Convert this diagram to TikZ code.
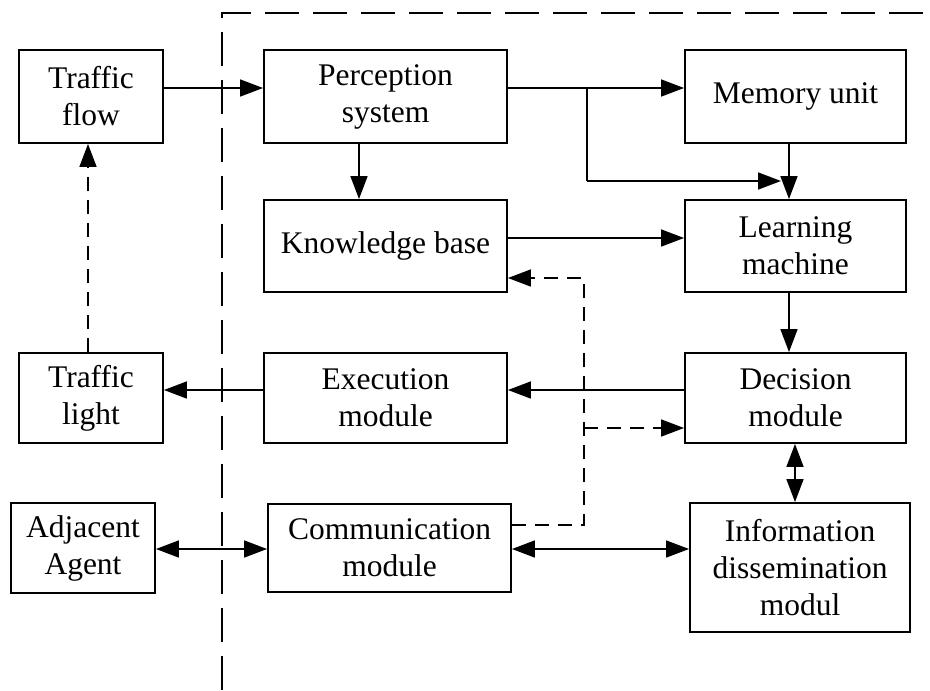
\documentclass[tikz,border=0pt]{standalone}
\usepackage{fontspec}
\setmainfont{Liberation Serif}
\usetikzlibrary{arrows.meta}
\begin{document}
\begin{tikzpicture}[x=1pt,y=-1pt,
  blk/.style={draw,line width=1.9pt,align=center,inner sep=0pt,
    font=\fontsize{31.5}{37}\selectfont},
  tip/.style={Triangle[length=23pt,width=17pt]},
  conn/.style={line width=1.6pt,-{Triangle[length=23pt,width=17pt]}},
  biconn/.style={line width=1.6pt,{Triangle[length=23pt,width=17pt]}-{Triangle[length=23pt,width=17pt]}},
  dconn/.style={conn,dash pattern=on 14pt off 9pt},
  border/.style={line width=1.5pt,dash pattern=on 34pt off 14pt}]
\useasboundingbox (0,0) rectangle (930,691);

% boxes
\node[blk,minimum width=144pt,minimum height=93pt] (tflow) at (91,96.5) {Traffic\\flow};
\node[blk,minimum width=243pt,minimum height=93pt] (percep) at (385.5,96.5) {Perception\\system};
\node[blk,minimum width=221pt,minimum height=93pt] (memory) at (795.5,96.5) {Memory unit};
\node[blk,minimum width=243pt,minimum height=92pt] (know) at (385.5,246) {Knowledge base};
\node[blk,minimum width=221pt,minimum height=92pt] (learn) at (795.5,246) {Learning\\machine};
\node[blk,minimum width=144pt,minimum height=90pt] (tlight) at (91,398) {Traffic\\light};
\node[blk,minimum width=243pt,minimum height=90pt] (exec) at (385.5,398) {Execution\\module};
\node[blk,minimum width=221pt,minimum height=90pt] (decision) at (795.5,398) {Decision\\module};
\node[blk,minimum width=144pt,minimum height=90pt] (adj) at (83,548) {Adjacent\\Agent};
\node[blk,minimum width=243pt,minimum height=88pt] (comm) at (389.5,548) {Communication\\module};
\node[blk,minimum width=220pt,minimum height=129pt] (info) at (800,567.5) {Information\\dissemination\\modul};

% reference levels and bends
\coordinate (r1) at (0,88);
\coordinate (r2) at (0,238);
\coordinate (r3) at (0,278);
\coordinate (r4) at (0,390);
\coordinate (r5) at (0,428);
\coordinate (r6) at (0,525);
\coordinate (r7) at (0,549);
\coordinate (colA) at (789,0);
\coordinate (colB) at (795,0);
\coordinate (fork) at (587,88);
\coordinate (forkdn) at (587,181);
\coordinate (forkend) at (781,181);
\coordinate (dv) at (584,0);
\coordinate (bnd1) at (222,690);
\coordinate (bnd2) at (222,13);
\coordinate (bnd3) at (930,13);

% agent boundary
\draw[border] (bnd1) -- (bnd2) -- (bnd3);

% solid connectors
\draw[conn] (tflow.east |- r1) -- (percep.west |- r1);
\draw[conn] (percep.east |- r1) -- (memory.west |- r1);
\draw[line width=1.6pt] (fork) -- (forkdn);
\draw[conn] (forkdn) -- (forkend);
\draw[conn] (memory.south -| colA) -- (learn.north -| colA);
\draw[conn] (percep.south -| 359,0) -- (know.north -| 359,0);
\draw[conn] (know.east |- r2) -- (learn.west |- r2);
\draw[conn] (learn.south -| colA) -- (decision.north -| colA);
\draw[conn] (decision.west |- r4) -- (exec.east |- r4);
\draw[conn] (exec.west |- r4) -- (tlight.east |- r4);
\draw[biconn] (decision.south -| colB) -- (info.north -| colB);
\draw[biconn] (adj.east |- r7) -- (comm.west |- r7);
\draw[biconn] (comm.east |- r7) -- (info.west |- r7);

% dashed connectors
\draw[dconn] (tlight.north -| 88,0) -- (tflow.south -| 88,0);
\draw[dconn] (comm.east |- r6) -- (dv |- r6) -- (dv |- r3) -- (know.east |- r3);
\draw[dconn] (dv |- r5) -- (decision.west |- r5);
\end{tikzpicture}
\end{document}
